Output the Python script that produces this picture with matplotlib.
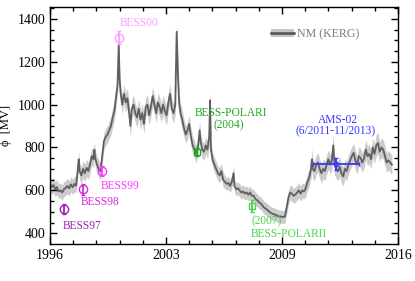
import matplotlib
matplotlib.use('Agg')
import matplotlib.pyplot as plt
from matplotlib.patches import Patch
from matplotlib.lines import Line2D

plt.rcParams['font.family'] = ['Liberation Serif', 'DejaVu Serif']

# neutron monitor derived modulation potential (KERG)
years = [
    1996.0, 1996.1, 1996.2, 1996.3, 1996.4, 1996.5, 1996.6, 1996.7, 1996.8, 1996.9,
    1997.0, 1997.1, 1997.2, 1997.3, 1997.4, 1997.5, 1997.6, 1997.65, 1997.7, 1997.8,
    1997.9, 1998.0, 1998.1, 1998.2, 1998.3, 1998.4, 1998.5, 1998.55, 1998.6, 1998.7,
    1998.8, 1998.9, 1999.0, 1999.1, 1999.2, 1999.3, 1999.4, 1999.5, 1999.6, 1999.7,
    1999.8, 1999.88, 1999.95, 2000.0, 2000.05, 2000.15, 2000.25, 2000.35, 2000.45, 2000.55,
    2000.62, 2000.7, 2000.8, 2000.9, 2001.0, 2001.1, 2001.2, 2001.3, 2001.4, 2001.5,
    2001.6, 2001.7, 2001.8, 2001.9, 2002.0, 2002.1, 2002.2, 2002.3, 2002.4, 2002.5,
    2002.6, 2002.7, 2002.8, 2002.9, 2003.0, 2003.1, 2003.2, 2003.28, 2003.35, 2003.42,
    2003.5, 2003.6, 2003.7, 2003.8, 2003.9, 2004.0, 2004.1, 2004.2, 2004.3, 2004.4,
    2004.5, 2004.6, 2004.65, 2004.75, 2004.85, 2004.95, 2005.05, 2005.15, 2005.2, 2005.25,
    2005.35, 2005.45, 2005.55, 2005.65, 2005.75, 2005.85, 2005.95, 2006.05, 2006.15, 2006.25,
    2006.35, 2006.45, 2006.55, 2006.6, 2006.7, 2006.8, 2006.9, 2007.0, 2007.1, 2007.2,
    2007.3, 2007.4, 2007.5, 2007.6, 2007.7, 2007.8, 2007.9, 2008.0, 2008.1, 2008.2,
    2008.3, 2008.4, 2008.5, 2008.6, 2008.7, 2008.8, 2008.9, 2009.0, 2009.1, 2009.2,
    2009.3, 2009.4, 2009.5, 2009.6, 2009.7, 2009.8, 2009.9, 2010.0, 2010.1, 2010.2,
    2010.3, 2010.4, 2010.5, 2010.6, 2010.7, 2010.8, 2010.9, 2011.0, 2011.05, 2011.1,
    2011.2, 2011.3, 2011.4, 2011.5, 2011.6, 2011.7, 2011.8, 2011.9, 2012.0, 2012.1,
    2012.2, 2012.28, 2012.35, 2012.45, 2012.55, 2012.65, 2012.75, 2012.85, 2012.95, 2013.05,
    2013.15, 2013.25, 2013.35, 2013.45, 2013.55, 2013.65, 2013.75, 2013.85, 2013.95, 2014.05,
    2014.15, 2014.25, 2014.35, 2014.45, 2014.55, 2014.65, 2014.75, 2014.85, 2014.95, 2015.05,
    2015.15, 2015.25, 2015.35, 2015.45, 2015.55, 2015.65]
phi = [
    630, 615, 625, 605, 615, 595, 600, 590, 605, 612,
    620, 610, 628, 615, 630, 622, 700, 745, 690, 670,
    700, 680, 705, 690, 720, 760, 745, 790, 750, 720,
    700, 690, 760, 830, 850, 860, 880, 900, 940, 970,
    1040, 1090, 1280, 1120, 1060, 1000, 1050, 1010, 1030, 960,
    900, 980, 1000, 960, 940, 980, 930, 960, 910, 990,
    1000, 950, 990, 1040, 1000, 960, 1010, 990, 960, 1000,
    970, 950, 1010, 1050, 980, 960, 1000, 1340, 1150, 1010,
    960, 930, 890, 860, 880, 910, 850, 810, 790, 770,
    800, 880, 830, 790, 780, 810, 790, 850, 1020, 790,
    740, 720, 700, 680, 670, 690, 650, 640, 630, 635,
    620, 640, 680, 620, 605, 610, 600, 590, 595, 585,
    590, 580, 590, 575, 575, 560, 555, 545, 540, 530,
    520, 515, 508, 500, 495, 490, 488, 485, 480, 478,
    478, 475, 478, 520, 565, 590, 585, 575, 580, 590,
    600, 585, 600, 595, 610, 640, 660, 700, 745, 700,
    690, 720, 730, 700, 680, 700, 690, 720, 745, 720,
    740, 810, 720, 700, 690, 710, 680, 665, 700, 690,
    720, 740, 760, 775, 740, 720, 760, 750, 730, 750,
    790, 760, 770, 745, 800, 770, 810, 820, 780, 800,
    790, 760, 730, 740, 730, 720]
phi_err = [
    35, 35, 35, 35, 35, 35, 35, 35, 35, 35,
    35, 35, 35, 35, 35, 35, 40, 40, 40, 40,
    40, 40, 40, 40, 40, 40, 40, 40, 40, 40,
    40, 40, 40, 40, 40, 40, 40, 40, 45, 45,
    45, 45, 50, 45, 45, 45, 45, 45, 45, 50,
    50, 45, 45, 45, 45, 45, 45, 45, 45, 45,
    45, 45, 45, 45, 45, 45, 45, 45, 45, 45,
    45, 45, 45, 45, 45, 45, 45, 50, 50, 45,
    45, 45, 40, 40, 40, 40, 40, 40, 40, 40,
    40, 45, 40, 40, 40, 40, 40, 45, 45, 40,
    35, 35, 35, 35, 35, 35, 35, 30, 30, 30,
    30, 30, 35, 30, 30, 30, 30, 30, 30, 30,
    30, 30, 30, 30, 30, 30, 30, 30, 30, 30,
    30, 30, 30, 30, 30, 30, 30, 30, 30, 30,
    30, 30, 30, 35, 35, 35, 35, 35, 35, 35,
    35, 35, 35, 35, 40, 40, 40, 45, 50, 45,
    45, 45, 45, 45, 45, 45, 45, 45, 45, 45,
    45, 50, 45, 45, 45, 45, 45, 45, 45, 45,
    45, 45, 45, 45, 45, 45, 45, 45, 45, 45,
    45, 45, 45, 45, 45, 45, 50, 50, 45, 45,
    45, 45, 45, 45, 45, 45]

# balloon / space measurements
exp_names = ['BESS97', 'BESS98', 'BESS99', 'BESS00', 'BESS-POLARI', 'BESS-POLARII', 'AMS-02']
exp_t = [1996.82, 1997.88, 1998.97, 1999.97, 2004.47, 2007.61, 2012.42]
exp_phi = [513, 605, 691, 1311, 778, 529, 725]
exp_err = [25, 25, 25, 30, 18, 28, 28]
ams_t_lo = 2011.09
ams_t_hi = 2013.74

low = [p - e for p, e in zip(phi, phi_err)]
high = [p + e for p, e in zip(phi, phi_err)]

fig = plt.figure(figsize=(4.15, 2.81), dpi=100)
ax = fig.add_axes([0.1205, 0.1317, 0.8385, 0.8433])

ax.fill_between(years, low, high, color='#cccccc', lw=0)
ax.plot(years, phi, color='#5f5f5f', lw=1.3)

cols = ['#a020b0', '#d62ad6', '#ff38ff', '#ff9cff', '#22a822', '#48d848', '#3838ff']
marks = ['o', 'o', 'o', 'o', 's', 's', 'o']
sizes = [6, 6, 6, 6, 5, 5, 3]
for i in range(len(exp_names)):
    xerr = None
    if exp_names[i] == 'AMS-02':
        xerr = [[exp_t[i] - ams_t_lo], [ams_t_hi - exp_t[i]]]
    ax.errorbar(exp_t[i], exp_phi[i], yerr=exp_err[i], xerr=xerr, fmt=marks[i],
                ms=sizes[i], mfc='none', mec=cols[i], mew=1.0, ecolor=cols[i],
                elinewidth=1.3, capsize=1.2, capthick=1.6)

fs = 8.3
ax.text(1996.75, 434, 'BESS97', color=cols[0], fontsize=fs, va='center')
ax.text(1997.78, 546, 'BESS98', color=cols[1], fontsize=fs, va='center')
ax.text(1998.93, 621, 'BESS99', color=cols[2], fontsize=fs, va='center')
ax.text(2000.02, 1380, 'BESS00', color=cols[3], fontsize=fs, va='center')
ax.text(2006.4, 962, 'BESS-POLARI', color=cols[4], fontsize=fs, va='center', ha='center')
ax.text(2006.3, 904, '(2004)', color=cols[4], fontsize=fs, va='center', ha='center')
ax.text(2007.6, 457, '(2007)', color=cols[5], fontsize=fs, va='center')
ax.text(2007.55, 397, 'BESS-POLARII', color=cols[5], fontsize=fs, va='center')
ax.text(2012.55, 929, 'AMS-02', color=cols[6], fontsize=fs, va='center', ha='center')
ax.text(2012.44, 876, '(6/2011-11/2013)', color=cols[6], fontsize=fs, va='center', ha='center')

# legend: line on top of band
h = (Patch(facecolor='#c4c4c4', edgecolor='none'), Line2D([], [], color='#505050', lw=1.8))
leg = ax.legend([h], ['NM (KERG)'], loc='center left', bbox_to_anchor=(0.635, 0.886),
                frameon=False, fontsize=8.6, handlelength=1.9, handleheight=0.6,
                handletextpad=0.3, borderpad=0, borderaxespad=0)
for t in leg.get_texts():
    t.set_color('#7a7a7a')

ax.set_xlim(1996, 2016)
ax.set_ylim(350, 1455)
xmaj = [1996, 1996 + 20 / 3, 1996 + 40 / 3, 2016]
ax.set_xticks(xmaj)
ax.set_xticklabels(['1996', '2003', '2009', '2016'])
ax.set_xticks([1996 + k * 4 / 3 for k in range(16)], minor=True)
ax.set_yticks([400, 600, 800, 1000, 1200, 1400])
ax.set_yticks(list(range(400, 1451, 50)), minor=True)
ax.tick_params(which='both', direction='in', top=True, right=True, labelsize=10, width=1.0)
ax.tick_params(which='major', length=5)
ax.tick_params(which='minor', length=2.6)
for s in ax.spines.values():
    s.set_linewidth(1.0)
ax.set_ylabel('ϕ  [MV]', fontsize=9, labelpad=4)

fig.savefig('out.png', dpi=100)
